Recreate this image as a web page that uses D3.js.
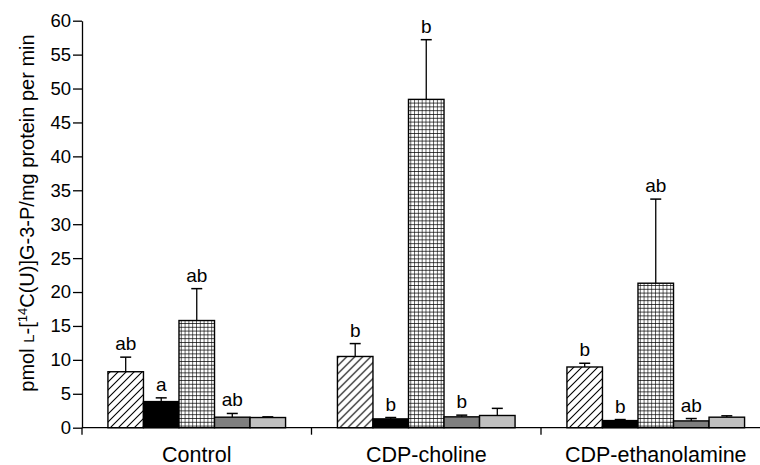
<!DOCTYPE html>
<html><head><meta charset="utf-8">
<script src="https://cdn.jsdelivr.net/npm/d3@7"></script>
<style>
html,body{margin:0;padding:0;background:#fff;}
svg{display:block;font-family:"Liberation Sans",Arial,Helvetica,sans-serif;}
</style></head>
<body>
<svg id="chart" width="760" height="465"></svg>
<script>
const categories = ["Control", "CDP-choline", "CDP-ethanolamine"];
const seriesNames = ["s1", "s2", "s3", "s4", "s5"];
const values = [
  [8.25, 3.85, 15.8, 1.55, 1.5],
  [10.5, 1.3, 48.4, 1.6, 1.8],
  [8.95, 1.05, 21.3, 1.0, 1.55]
];
const errors = [
  [2.15, 0.55, 4.7, 0.55, 0.1],
  [1.9, 0.2, 8.8, 0.25, 1.05],
  [0.55, 0.15, 12.4, 0.35, 0.2]
];
const letters = [
  ["ab", "a", "ab", "ab", ""],
  ["b", "b", "b", "b", ""],
  ["b", "b", "ab", "ab", ""]
];
const yTicks = [0, 5, 10, 15, 20, 25, 30, 35, 40, 45, 50, 55, 60];

const svg = d3.select("#chart");
const mLeft = 82, mTop = 20.7, mBottom = 427.7, groupStep = 229.5;

const defs = svg.append("defs");
const hatch = defs.append("pattern").attr("id", "hatch").attr("patternUnits", "userSpaceOnUse")
  .attr("width", 8).attr("height", 8);
hatch.append("rect").attr("width", 8).attr("height", 8).attr("fill", "#fff");
hatch.append("path").attr("d", "M-2,2 L2,-2 M0,8 L8,0 M6,10 L10,6")
  .attr("stroke", "#000").attr("stroke-width", 1.1);
const grid = defs.append("pattern").attr("id", "grid").attr("patternUnits", "userSpaceOnUse")
  .attr("width", 3.8).attr("height", 3.8);
grid.append("rect").attr("width", 3.8).attr("height", 3.8).attr("fill", "#fff");
grid.append("path").attr("d", "M0,0 L3.8,0 M0,0 L0,3.8").attr("stroke", "#000").attr("stroke-width", 1.2);

const fills = ["url(#hatch)", "#000", "url(#grid)", "#7f7f7f", "#c0c0c0"];

const x0 = d3.scaleBand().domain(categories).range([mLeft, mLeft + groupStep * categories.length]).padding(0);
const x1 = d3.scaleBand().domain(seriesNames).range([0, x0.bandwidth()]).paddingInner(0).paddingOuter(0.73);
const y = d3.scaleLinear().domain([0, 60]).range([mBottom, mTop]);

const groups = svg.append("g").selectAll("g").data(categories).join("g")
  .attr("transform", c => `translate(${x0(c)},0)`);

groups.each(function(c, ci) {
  const g = d3.select(this);
  seriesNames.forEach((s, si) => {
    const v = values[ci][si], e = errors[ci][si];
    const cx = x1(s) + x1.bandwidth() / 2;
    g.append("line").attr("x1", cx).attr("x2", cx).attr("y1", y(v)).attr("y2", y(v + e))
      .attr("stroke", "#000").attr("stroke-width", 1.3);
    g.append("line").attr("x1", cx - 5.5).attr("x2", cx + 5.5).attr("y1", y(v + e)).attr("y2", y(v + e))
      .attr("stroke", "#000").attr("stroke-width", 1.5);
    g.append("rect").attr("x", x1(s)).attr("y", y(v)).attr("width", x1.bandwidth())
      .attr("height", y(0) - y(v)).attr("fill", fills[si]).attr("stroke", "#000").attr("stroke-width", 1.4);
    if (letters[ci][si]) {
      g.append("text").attr("x", cx).attr("y", y(v + e) - 7).attr("text-anchor", "middle")
        .attr("font-size", 19).attr("fill", "#000").text(letters[ci][si]);
    }
  });
});

const yAxis = d3.axisLeft(y).tickValues(yTicks).tickSize(9).tickPadding(2).tickSizeOuter(0);
const ya = svg.append("g").attr("transform", `translate(${mLeft},0)`).call(yAxis);
ya.select(".domain").attr("stroke", "#000").attr("stroke-width", 1.3);
ya.selectAll(".tick line").attr("stroke", "#000").attr("stroke-width", 1.3);
ya.selectAll(".tick text").attr("font-size", 18.5).attr("fill", "#000")
  .attr("font-family", "Liberation Sans, Arial, sans-serif");

svg.append("line").attr("x1", mLeft).attr("x2", 760).attr("y1", mBottom).attr("y2", mBottom)
  .attr("stroke", "#000").attr("stroke-width", 1.3);
svg.append("g").selectAll("line").data(categories).join("line")
  .attr("x1", c => x0(c)).attr("x2", c => x0(c)).attr("y1", mBottom).attr("y2", mBottom + 7)
  .attr("stroke", "#000").attr("stroke-width", 1.3);
svg.append("g").selectAll("text").data(categories).join("text")
  .attr("x", c => x0(c) + x0.bandwidth() / 2).attr("y", 461.5)
  .attr("text-anchor", "middle").attr("font-size", 21.5).attr("fill", "#000").text(c => c);

const yt = svg.append("text").attr("transform", "translate(33.5,213) rotate(-90)")
  .attr("text-anchor", "middle").attr("font-size", 20).attr("fill", "#000");
yt.append("tspan").text("pmol ");
yt.append("tspan").attr("font-size", 15).text("L");
yt.append("tspan").text("-[");
yt.append("tspan").attr("font-size", 13).attr("dy", -7).text("14");
yt.append("tspan").attr("dy", 7).text("C(U)]G-3-P/mg protein per min");
</script>
</body></html>
